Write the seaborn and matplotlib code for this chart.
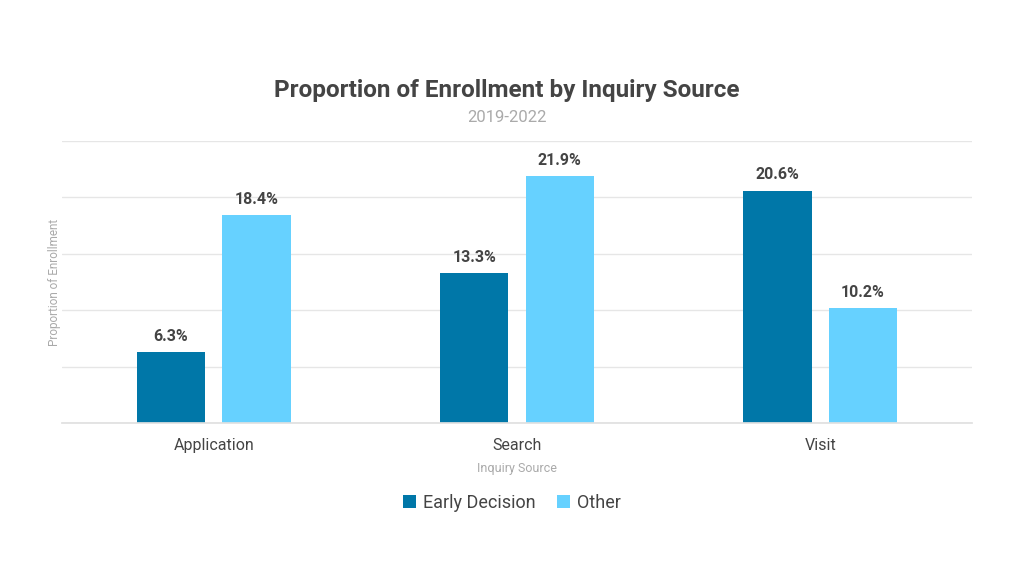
import matplotlib
matplotlib.use("Agg")
import matplotlib.pyplot as plt
import seaborn as sns
import pandas as pd

# data
sources = ["Application", "Search", "Visit"]
early_decision = [6.3, 13.3, 20.6]
other = [18.4, 21.9, 10.2]
groups = ["Early Decision", "Other"]
colors = ["#0077A8", "#66D1FF"]

df = pd.DataFrame({
    "Inquiry Source": sources * 2,
    "Group": [groups[0]] * 3 + [groups[1]] * 3,
    "Value": early_decision + other,
})

sns.set_theme(style="white")
plt.rcParams["font.family"] = ["Roboto", "DejaVu Sans"]

fig = plt.figure(figsize=(10.24, 5.76), dpi=100)
ax = fig.add_axes([62 / 1024, 1 - 423 / 576, 910 / 1024, 282 / 576])

sns.barplot(data=df, x="Inquiry Source", y="Value", hue="Group",
            palette=colors, saturation=1, width=0.564, gap=0.2,
            linewidth=0, ax=ax, legend=True)

ax.set_ylim(0, 25)
ax.set_xlim(-0.5, 2.5)
ax.set_yticks([0, 5, 10, 15, 20, 25])
ax.set_yticklabels([])
ax.tick_params(axis="y", length=0)
ax.tick_params(axis="x", length=0, labelsize=11.5, colors="#444444", pad=11)
ax.yaxis.grid(True, color="#e6e6e6", linewidth=1)
ax.set_axisbelow(True)
for s in ["top", "right", "left"]:
    ax.spines[s].set_visible(False)
ax.spines["bottom"].set_color("#e0e0e0")

for container in ax.containers:
    ax.bar_label(container, fmt="%.1f%%", padding=6, fontsize=11.5,
                 fontweight="bold", color="#444444")

ax.set_xlabel("Inquiry Source", fontsize=9, color="#aaaaaa", labelpad=6)
ax.set_ylabel("Proportion of Enrollment", fontsize=8.5, color="#aaaaaa")
ax.yaxis.set_label_coords(-1 / 910, 0.5)

fig.text(0.495, 1 - 90 / 576, "Proportion of Enrollment by Inquiry Source",
         ha="center", va="center", fontsize=17.5, fontweight="bold", color="#444444")
fig.text(0.495, 1 - 117 / 576, "2019-2022", ha="center", va="center",
         fontsize=12, color="#aaaaaa")

leg = ax.legend(loc="center", bbox_to_anchor=(0.5, 1 - 503 / 576),
                bbox_transform=fig.transFigure, ncol=2, frameon=False,
                fontsize=13, handlelength=0.7, handleheight=0.7,
                handletextpad=0.4, columnspacing=1.2)
for t in leg.get_texts():
    t.set_color("#444444")

fig.savefig("out.png", dpi=100)
